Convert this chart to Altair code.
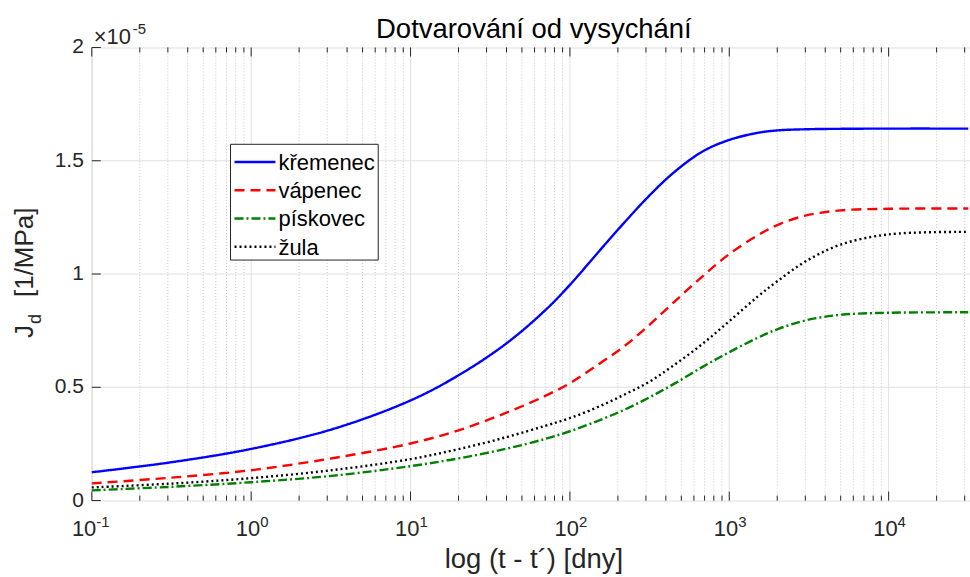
import altair as alt
import pandas as pd

# Time since start of drying, days
t_days = [0.1, 0.3, 1, 3.3, 10, 20, 40, 70, 100, 150, 220, 316, 450, 680,
          1000, 1500, 2000, 3000, 5000, 10000, 31600]

# Drying creep compliance J_d in units of 1e-5 1/MPa
kremenec = [0.125, 0.167, 0.228, 0.317, 0.442, 0.553, 0.694, 0.840, 0.952, 1.095,
            1.228, 1.347, 1.449, 1.541, 1.592, 1.623, 1.634, 1.639, 1.641, 1.642, 1.642]
vapenec = [0.076, 0.100, 0.134, 0.188, 0.252, 0.310, 0.388, 0.462, 0.518, 0.600,
           0.682, 0.776, 0.876, 0.990, 1.088, 1.170, 1.216, 1.258, 1.281, 1.288, 1.289]
piskovec = [0.045, 0.060, 0.081, 0.110, 0.152, 0.186, 0.229, 0.272, 0.306, 0.352,
            0.401, 0.456, 0.515, 0.590, 0.655, 0.718, 0.756, 0.795, 0.820, 0.829, 0.831]
zula = [0.058, 0.074, 0.099, 0.135, 0.183, 0.227, 0.280, 0.330, 0.364, 0.413,
        0.468, 0.525, 0.598, 0.692, 0.792, 0.899, 0.968, 1.055, 1.130, 1.175, 1.186]

series_names = ["křemenec", "vápenec", "pískovec", "žula"]
series_colors = ["#0000ff", "#ff0000", "#008000", "#000000"]
series_dashes = [[1, 0], [10, 6], [9, 3, 2, 3], [2, 3]]

decades = [0.1, 1, 10, 100, 1000, 10000]
decade_exp = ["-1", "0", "1", "2", "3", "4"]
y_ticks = [0, 0.5, 1, 1.5, 2]
y_tick_labels = ["0", "0.5", "1", "1.5", "2"]

W, H = 880, 454
AXIS_COLOR = "#262626"
FONT = "Liberation Sans"
LINE_W = 2.4

rows = []
for name, vals in zip(series_names, [kremenec, vapenec, piskovec, zula]):
    for t, v in zip(t_days, vals):
        rows.append({"t": t, "J": v, "materiál": name})
df = pd.DataFrame(rows)

minor = [k * 10.0 ** n for n in range(-1, 5) for k in range(2, 10) if k * 10.0 ** n <= 32400]
df_major = pd.DataFrame({"t": decades, "exp": decade_exp})
df_minor = pd.DataFrame({"t": minor})
df_y = pd.DataFrame({"v": y_ticks, "lab": y_tick_labels})

x_scale = alt.Scale(type="log", domain=[0.1, 32400], nice=False)
y_scale = alt.Scale(domain=[0, 2], nice=False, zero=False)


def xq():
    return alt.X("t:Q", scale=x_scale, axis=None)


def yq():
    return alt.Y("v:Q", scale=y_scale, axis=None)


minor_grid = alt.Chart(df_minor).mark_rule(
    color="#c8c8c8", strokeWidth=1, strokeDash=[1, 2]
).encode(x=xq(), y=alt.value(0), y2=alt.value(H))

major_grid = alt.Chart(df_major).mark_rule(color="#e0e0e0", strokeWidth=1).encode(
    x=xq(), y=alt.value(0), y2=alt.value(H)
)

y_grid = alt.Chart(df_y).transform_filter(
    (alt.datum.v > 0) & (alt.datum.v < 2)
).mark_rule(color="#e0e0e0", strokeWidth=1).encode(
    y=yq(), x=alt.value(0), x2=alt.value(W)
)

lines = alt.Chart(df).mark_line(strokeWidth=LINE_W, interpolate="catmull-rom").encode(
    x=xq(),
    y=alt.Y("J:Q", scale=y_scale, axis=None),
    color=alt.Color(
        "materiál:N",
        scale=alt.Scale(domain=series_names, range=series_colors),
        legend=None,
    ),
    strokeDash=alt.StrokeDash(
        "materiál:N",
        scale=alt.Scale(domain=series_names, range=series_dashes),
        legend=None,
    ),
)

# Inward tick marks on bottom, top and left edges
tick_bot_major = alt.Chart(df_major).mark_rule(color=AXIS_COLOR).encode(
    x=xq(), y=alt.value(H), y2=alt.value(H - 9))
tick_top_major = alt.Chart(df_major).mark_rule(color=AXIS_COLOR).encode(
    x=xq(), y=alt.value(0), y2=alt.value(9))
tick_bot_minor = alt.Chart(df_minor).mark_rule(color=AXIS_COLOR).encode(
    x=xq(), y=alt.value(H), y2=alt.value(H - 5))
tick_top_minor = alt.Chart(df_minor).mark_rule(color=AXIS_COLOR).encode(
    x=xq(), y=alt.value(0), y2=alt.value(5))
tick_left = alt.Chart(df_y).mark_rule(color=AXIS_COLOR).encode(
    y=yq(), x=alt.value(0), x2=alt.value(9))

# y tick labels
y_labels = alt.Chart(df_y).mark_text(
    font=FONT, fontSize=21, color=AXIS_COLOR, align="right", baseline="middle", dx=-8
).encode(y=yq(), x=alt.value(0), text="lab:N")


# Decade labels 10^n with raised exponents
def decade_labels(cond, shift):
    base = alt.Chart(df_major).transform_filter(cond)
    ten = base.mark_text(
        font=FONT, fontSize=22, color=AXIS_COLOR, align="right", baseline="alphabetic", dx=shift
    ).encode(x=xq(), y=alt.value(H + 36), text=alt.value("10"))
    ex = base.mark_text(
        font=FONT, fontSize=15, color=AXIS_COLOR, align="left", baseline="alphabetic", dx=shift
    ).encode(x=xq(), y=alt.value(H + 26), text="exp:N")
    return ten + ex


x_labels_first = decade_labels(alt.datum.t < 0.5, 4.5)
x_labels_rest = decade_labels(alt.datum.t >= 0.5, 9)


def label(text, x, y, size, align="left", angle=0, color=AXIS_COLOR, baseline="alphabetic"):
    return alt.Chart(pd.DataFrame({"s": [text]})).mark_text(
        font=FONT, fontSize=size, color=color, align=align, baseline=baseline, angle=angle
    ).encode(x=alt.value(x), y=alt.value(y), text="s:N")


# Legend box in the upper left part of the plot
LEG_X0, LEG_X1, LEG_Y0, LEG_Y1 = 139, 287, 97, 213
LEG_ROW0, LEG_ROW_STEP = 114.7, 28.3
legend_parts = [
    alt.Chart(pd.DataFrame({"s": [0]})).mark_rect(
        fill="white", stroke=AXIS_COLOR, strokeWidth=1
    ).encode(x=alt.value(LEG_X0), x2=alt.value(LEG_X1), y=alt.value(LEG_Y0), y2=alt.value(LEG_Y1))
]
for i, (name, col, dash) in enumerate(zip(series_names, series_colors, series_dashes)):
    yy = LEG_ROW0 + i * LEG_ROW_STEP
    legend_parts.append(
        alt.Chart(pd.DataFrame({"s": [name]})).mark_rule(
            color=col, strokeWidth=LINE_W, strokeDash=dash
        ).encode(x=alt.value(LEG_X0 + 4), x2=alt.value(LEG_X0 + 45), y=alt.value(yy))
    )
    legend_parts.append(label(name, LEG_X0 + 48, yy + 1, 22, color="black", baseline="middle"))

# Chart title
title = label("Dotvarování od vysychání", 443, -10, 27.5, align="center", color="black")

# Exponent multiplier of the y axis
mult_a = label("×10", 2, -3.7, 22)
mult_b = label("-5", 41, -14, 15)

# x axis title
x_title = label("log (t - t´) [dny]", 443, 522, 27.5, align="center")

# y axis title J_d [1/MPa] with subscript
y_j = label("J", -59, 291, 26, angle=270)
y_d = label("d", -51, 277, 18, angle=270)
y_rest = label("[1/MPa]", -59, 250, 26, angle=270)

chart = alt.layer(
    minor_grid, major_grid, y_grid, lines,
    tick_bot_major, tick_top_major, tick_bot_minor, tick_top_minor, tick_left,
    *legend_parts,
    y_labels, x_labels_first, x_labels_rest,
    title, mult_a, mult_b, x_title, y_j, y_d, y_rest,
).properties(
    width=W, height=H,
    autosize=alt.AutoSizeParams(type="none"),
    padding={"left": 92, "top": 47, "right": 0, "bottom": 76},
).configure_view(stroke=AXIS_COLOR, strokeWidth=1).configure(background="white")

chart.save("out.html", embed_options={"renderer": "svg", "actions": False})
